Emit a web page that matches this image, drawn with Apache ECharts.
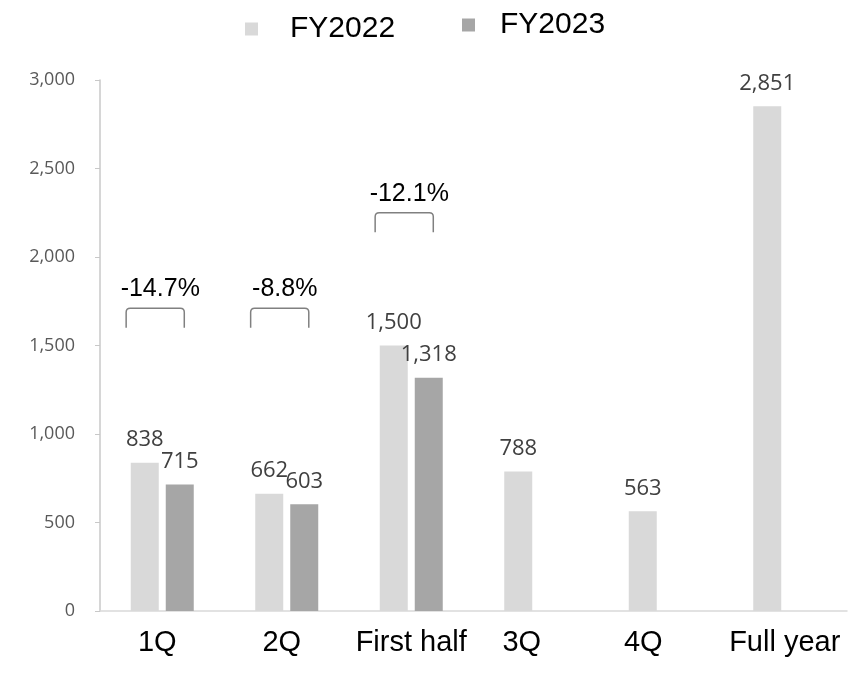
<!DOCTYPE html>
<html>
<head>
<meta charset="utf-8">
<script src="https://cdn.jsdelivr.net/npm/echarts@6/dist/echarts.min.js"></script>
<style>
html,body{margin:0;padding:0;background:#fff;}
#chart{width:849px;height:673px;}
</style>
</head>
<body>
<div id="chart"></div>
<script>
var categories = ['1Q', '2Q', 'First half', '3Q', '4Q', 'Full year'];
var fy2022 = [838, 662, 1500, 788, 563, 2851];
var fy2023 = [715, 603, 1318, null, null, null];
var yTicks = [0, 500, 1000, 1500, 2000, 2500, 3000];
var bracketCats = [0, 1, 2];
var bracketTop = [1710, 1710, 2250];
var bracketBottom = [1600, 1600, 2140];
var bracketText = ['-14.7%', '-8.8%', '-12.1%'];

var chart = echarts.init(document.getElementById('chart'), null, {renderer: 'canvas'});

var bracketData = bracketCats.map(function (c, i) {
  return [c, bracketTop[i], bracketBottom[i], bracketText[i]];
});

// per-label horizontal nudges (label style keys)
var labelStyleKeys = ['s5', 's5', 's0', 's14', 's17', 's0'];
var catFont = {fontFamily: 'Liberation Sans', fontSize: 29, color: '#000'};
function richFor(shift) {
  var o = Object.assign({}, catFont);
  o.padding = [0, shift * 2, 0, 0];
  return o;
}

var option = {
  animation: false,
  backgroundColor: '#ffffff',
  legend: [
    {
      data: ['FY2022'],
      left: 245, top: 14, padding: 0,
      itemWidth: 13, itemHeight: 13, icon: 'rect',
      textStyle: {fontFamily: 'Liberation Sans', fontSize: 30, color: '#000', padding: [0, 0, 0, 27]}
    },
    {
      data: ['FY2023'],
      left: 462, top: 10, padding: 0,
      itemWidth: 13, itemHeight: 13, icon: 'rect',
      textStyle: {fontFamily: 'Liberation Sans', fontSize: 30, color: '#000', padding: [0, 0, 0, 20]}
    }
  ],
  grid: {left: 100, right: 2, top: 80, bottom: 62, containLabel: false},
  xAxis: {
    type: 'category',
    data: categories,
    axisLine: {show: true, lineStyle: {color: '#d9d9d9', width: 1.5}},
    axisTick: {show: false},
    axisLabel: {
      fontFamily: 'Liberation Sans', fontSize: 29, color: '#000', margin: 17, interval: 0,
      formatter: function (v, i) { return '{' + labelStyleKeys[i] + '|' + v + '}'; },
      rich: {s0: richFor(0), s5: richFor(5), s14: richFor(14), s17: richFor(17)}
    }
  },
  yAxis: {
    type: 'value',
    min: yTicks[0], max: yTicks[yTicks.length - 1], interval: yTicks[1] - yTicks[0],
    splitLine: {show: false},
    axisLine: {show: true, lineStyle: {color: '#c8c8c8', width: 1.5}},
    axisTick: {show: true, inside: false, length: 5, lineStyle: {color: '#c8c8c8'}},
    axisLabel: {
      fontFamily: 'Open Sans', fontSize: 18, color: '#595959', margin: 25,
      formatter: function (v) { return v.toLocaleString('en-US'); }
    }
  },
  series: [
    {
      name: 'FY2022', type: 'bar', data: fy2022,
      barWidth: 28, barGap: '25%',
      itemStyle: {color: '#d9d9d9'},
      label: {
        show: true, position: 'top', distance: 12,
        fontFamily: 'Open Sans', fontSize: 22, color: '#404040',
        formatter: function (p) { return p.value.toLocaleString('en-US'); }
      }
    },
    {
      name: 'FY2023', type: 'bar', data: fy2023,
      barWidth: 28,
      itemStyle: {color: '#a6a6a6'},
      label: {
        show: true, position: 'top', distance: 12,
        fontFamily: 'Open Sans', fontSize: 22, color: '#404040',
        formatter: function (p) { return p.value == null ? '' : p.value.toLocaleString('en-US'); }
      }
    },
    {
      name: 'brackets', type: 'custom', coordinateSystem: 'cartesian2d',
      data: bracketData, encode: {x: 0, y: 1}, z: 5, silent: true,
      renderItem: function (params, api) {
        var topPt = api.coord([api.value(0), api.value(1)]);
        var botPt = api.coord([api.value(0), api.value(2)]);
        var w = api.size([1, 0])[0];
        var c = topPt[0];
        var l = c - 0.29 * w, r = c + 0.177 * w;
        var t = topPt[1], b = botPt[1], rad = 4;
        var d = 'M' + l + ',' + b + ' L' + l + ',' + (t + rad) + ' Q' + l + ',' + t + ' ' + (l + rad) + ',' + t +
                ' L' + (r - rad) + ',' + t + ' Q' + r + ',' + t + ' ' + r + ',' + (t + rad) + ' L' + r + ',' + b;
        return {
          type: 'group',
          children: [
            {type: 'path', shape: {pathData: d}, style: {fill: null, stroke: '#808080', lineWidth: 1.5}},
            {type: 'text', style: {
              text: bracketText[params.dataIndex], x: c - 2, y: t - 19,
              textAlign: 'center', textVerticalAlign: 'middle',
              fontFamily: 'Liberation Sans', fontSize: 25, fill: '#000'
            }}
          ]
        };
      }
    }
  ]
};
chart.setOption(option);
</script>
</body>
</html>
